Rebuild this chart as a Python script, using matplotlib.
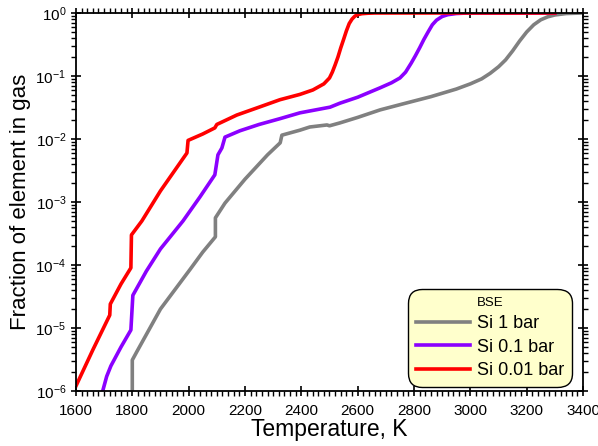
import matplotlib
matplotlib.use("Agg")
import matplotlib.pyplot as plt
import matplotlib.transforms as mtransforms
from matplotlib.ticker import MultipleLocator, LogLocator, NullFormatter

plt.rcParams['font.family'] = ['Liberation Sans', 'DejaVu Sans']
plt.rcParams['mathtext.fontset'] = 'custom'
plt.rcParams['mathtext.rm'] = 'Liberation Sans'

# Si 1 bar (gray)
t_1bar = [1800, 1800, 1816, 1900, 2005, 2050, 2095, 2095, 2129, 2200, 2280, 2325, 2331,
          2395, 2430, 2491, 2500, 2537, 2600, 2680, 2760, 2860, 2950, 3000, 3040,
          3070, 3100, 3125, 3150, 3175, 3200, 3225, 3250, 3275, 3300, 3340, 3400]
f_1bar = [1e-6, 3.1e-6, 4.2e-6, 2.0e-5, 8.5e-5, 1.6e-4, 2.8e-4, 5.6e-4, 9.6e-4, 2.3e-3,
          5.6e-3, 8.7e-3, 1.15e-2, 1.38e-2, 1.55e-2, 1.67e-2, 1.62e-2, 1.8e-2, 2.2e-2,
          2.9e-2, 3.6e-2, 4.7e-2, 6.2e-2, 7.5e-2, 9.0e-2, 0.11, 0.14, 0.18, 0.25,
          0.36, 0.5, 0.65, 0.78, 0.87, 0.93, 0.98, 1.0]

# Si 0.1 bar (purple)
t_01bar = [1695, 1709, 1724, 1760, 1795, 1802, 1850, 1900, 1980, 2040, 2093, 2104, 2118,
           2129, 2182, 2250, 2324, 2395, 2502, 2537, 2600, 2680, 2720, 2750, 2770,
           2790, 2805, 2820, 2835, 2850, 2865, 2880, 2900, 2920, 2950, 2990, 3300]
f_01bar = [1e-6, 1.7e-6, 2.5e-6, 5.0e-6, 9.3e-6, 3.3e-5, 8.0e-5, 1.8e-4, 5.0e-4, 1.2e-3,
           2.7e-3, 5.6e-3, 7.2e-3, 1.07e-2, 1.35e-2, 1.7e-2, 2.1e-2, 2.6e-2, 3.2e-2,
           3.7e-2, 4.6e-2, 6.5e-2, 7.8e-2, 9.3e-2, 0.115, 0.16, 0.21, 0.28, 0.38,
           0.5, 0.65, 0.77, 0.88, 0.94, 0.98, 1.0, 1.0]

# Si 0.01 bar (red)
t_001bar = [1600, 1660, 1720, 1722, 1760, 1795, 1797, 1834, 1900, 1994, 1998, 2050, 2093,
            2100, 2171, 2250, 2324, 2395, 2441, 2480, 2500, 2510, 2520, 2530, 2540,
            2550, 2560, 2570, 2580, 2590, 2600, 2615, 2635, 2660, 3300]
f_001bar = [1.2e-6, 4.5e-6, 1.6e-5, 2.4e-5, 5.0e-5, 9.0e-5, 3.0e-4, 5.0e-4, 1.5e-3, 6.0e-3,
            9.5e-3, 1.2e-2, 1.5e-2, 1.7e-2, 2.4e-2, 3.2e-2, 4.2e-2, 5.1e-2, 6.0e-2,
            7.5e-2, 9.3e-2, 0.115, 0.15, 0.2, 0.28, 0.38, 0.52, 0.68, 0.8, 0.89,
            0.94, 0.975, 0.99, 1.0, 1.0]

fig = plt.figure(figsize=(5.98, 4.46), dpi=100)
ax = fig.add_axes([0.127, 0.1233, 0.848, 0.8476])

lw = 2.6
ax.plot(t_1bar, f_1bar, color='#808080', lw=lw, label='Si 1 bar', solid_joinstyle='round')
ax.plot(t_01bar, f_01bar, color='#8b00ff', lw=lw, label='Si 0.1 bar', solid_joinstyle='round')
ax.plot(t_001bar, f_001bar, color='#ff0000', lw=lw, label='Si 0.01 bar', solid_joinstyle='round')

ax.set_yscale('log')
ax.set_xlim(1600, 3400)
ax.set_ylim(1e-6, 1)
ax.xaxis.set_major_locator(MultipleLocator(200))
ax.xaxis.set_minor_locator(MultipleLocator(20))
ax.yaxis.set_major_locator(LogLocator(base=10, numticks=10))
ax.yaxis.set_minor_locator(LogLocator(base=10, subs=range(2, 10), numticks=20))
ax.yaxis.set_minor_formatter(NullFormatter())

ax.tick_params(which='major', direction='inout', length=7, width=1.2,
               top=True, right=True, labelsize=11)
ax.tick_params(which='minor', direction='out', length=3.5, width=1,
               top=True, right=True)
ax.tick_params(axis='x', which='major', pad=6)
for s in ax.spines.values():
    s.set_linewidth(1.3)

ax.set_xlabel('Temperature, K', fontsize=16.5, labelpad=0)
ax.set_ylabel('Fraction of element in gas', fontsize=16, labelpad=3)

# nudge the last x tick label so it stays inside the figure
fig.canvas.draw()
last = ax.get_xticklabels()[-1]
last.set_transform(last.get_transform() +
                   mtransforms.ScaledTranslation(-3 / 72, 0, fig.dpi_scale_trans))

leg = ax.legend(title='BSE', loc='lower right', bbox_to_anchor=(0.978, 0.0106),
                fontsize=13, title_fontsize=9.5, fancybox=True, framealpha=1,
                edgecolor='black', handlelength=3.0, borderaxespad=0,
                labelspacing=0.35, handletextpad=0.35, borderpad=0.45)
leg.get_frame().set_facecolor('#ffffcc')
leg.get_frame().set_linewidth(1.0)
leg.get_frame().set_boxstyle('round', pad=0, rounding_size=0.8)

fig.savefig('out.png', dpi=100)
